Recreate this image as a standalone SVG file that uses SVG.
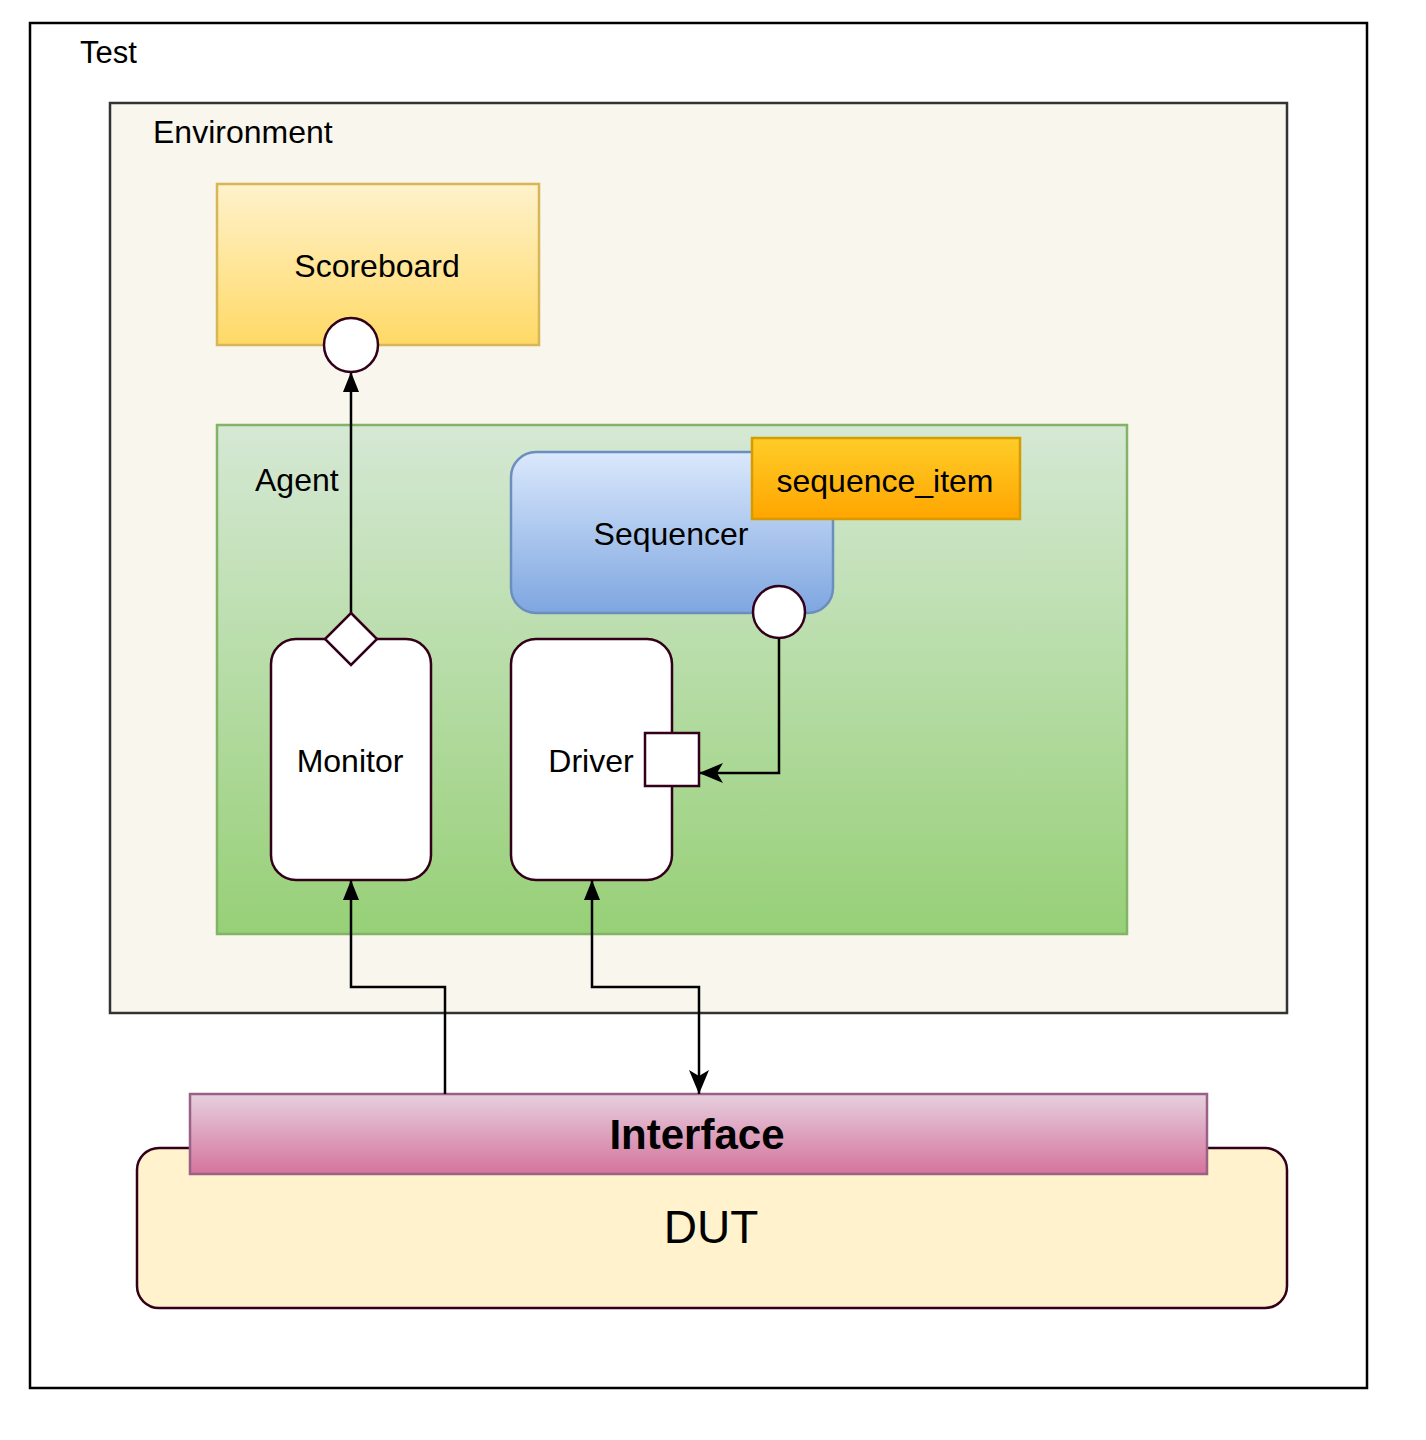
<svg xmlns="http://www.w3.org/2000/svg" width="1426" height="1440" viewBox="0 0 1426 1440">
<style>
text{font-family:"Liberation Sans",Arial,sans-serif;font-size:32px;fill:#000}
.c{text-anchor:middle}
.port{fill:#fff;stroke:#33001a;stroke-width:2.5}
.box{fill:#fff;stroke:#33001a;stroke-width:2.5}
.ln{fill:none;stroke:#000;stroke-width:2.5}
</style>
<defs>
<linearGradient id="gY" x1="0" y1="0" x2="0" y2="1"><stop offset="0" stop-color="#fff2cc"/><stop offset="1" stop-color="#ffd966"/></linearGradient>
<linearGradient id="gG" x1="0" y1="0" x2="0" y2="1"><stop offset="0" stop-color="#d5e8d4"/><stop offset="1" stop-color="#97d077"/></linearGradient>
<linearGradient id="gB" x1="0" y1="0" x2="0" y2="1"><stop offset="0" stop-color="#dae8fc"/><stop offset="1" stop-color="#7ea6e0"/></linearGradient>
<linearGradient id="gO" x1="0" y1="0" x2="0" y2="1"><stop offset="0" stop-color="#ffcd28"/><stop offset="1" stop-color="#ffa500"/></linearGradient>
<linearGradient id="gP" x1="0" y1="0" x2="0" y2="1"><stop offset="0" stop-color="#e6d0de"/><stop offset="1" stop-color="#d5739d"/></linearGradient>
<marker id="blk" viewBox="0 0 20 16" refX="20" refY="8" markerWidth="20" markerHeight="16" markerUnits="userSpaceOnUse" orient="auto"><path d="M0,0 L20,8 L0,16 Z" fill="#000"/></marker>
<marker id="cls" viewBox="0 0 24 20" refX="24" refY="10" markerWidth="24" markerHeight="20" markerUnits="userSpaceOnUse" orient="auto"><path d="M0,0 L24,10 L0,20 L6,10 Z" fill="#000"/></marker>
<marker id="clsS" viewBox="0 0 24 20" refX="24" refY="10" markerWidth="24" markerHeight="20" markerUnits="userSpaceOnUse" orient="auto-start-reverse"><path d="M0,0 L24,10 L0,20 L6,10 Z" fill="#000"/></marker>
</defs>

<g id="test"><rect x="30" y="23" width="1337" height="1365" fill="#fff" stroke="#000" stroke-width="2.5"/><text x="80" y="63" style="font-size:31px">Test</text></g>
<g id="environment"><rect x="110" y="103" width="1177" height="910" fill="#f9f6ee" stroke="#333" stroke-width="2.5"/><text x="153" y="143">Environment</text></g>
<g id="scoreboard"><rect x="217" y="184" width="322" height="161" fill="url(#gY)" stroke="#d6b656" stroke-width="2.5"/><text class="c" x="377" y="277">Scoreboard</text></g>
<g id="agent"><rect x="217" y="425" width="910" height="509" fill="url(#gG)" stroke="#82b366" stroke-width="2.5"/><text x="255" y="491">Agent</text></g>
<g id="sequencer"><rect x="511" y="452" width="322" height="161" rx="25" fill="url(#gB)" stroke="#6c8ebf" stroke-width="2.5"/><text class="c" x="671" y="545">Sequencer</text></g>
<g id="sequence_item"><rect x="752" y="438" width="268" height="81" fill="url(#gO)" stroke="#d79b00" stroke-width="2.5"/><text class="c" x="885" y="492">sequence_item</text></g>
<g id="monitor"><rect class="box" x="271" y="639" width="160" height="241" rx="25"/><text class="c" x="350" y="772">Monitor</text></g>
<g id="driver"><rect class="box" x="511" y="639" width="161" height="241" rx="25"/><text class="c" x="591" y="772">Driver</text></g>
<g id="dut"><rect x="137" y="1148" width="1150" height="160" rx="22" fill="#fff2cc" stroke="#33001a" stroke-width="2.5"/><text class="c" x="711" y="1243" style="font-size:46px">DUT</text></g>
<g id="interface"><rect x="190" y="1094" width="1017" height="80" fill="url(#gP)" stroke="#996185" stroke-width="2.5"/><text class="c" x="697" y="1149" style="font-size:42px;font-weight:bold">Interface</text></g>

<g id="connectors">
<path class="ln" d="M351,613 L351,372" marker-end="url(#blk)"/>
<path class="ln" d="M779,639 L779,773 L699,773" marker-end="url(#cls)"/>
<path class="ln" d="M445,1094 L445,987 L351,987 L351,880" marker-end="url(#blk)"/>
<path class="ln" d="M699,1094 L699,987 L592,987 L592,880" marker-end="url(#blk)" marker-start="url(#clsS)"/>
</g>

<g id="ports">
<circle id="sb_port" class="port" cx="351" cy="345" r="27"/>
<circle id="seq_port" class="port" cx="779" cy="612" r="26"/>
<path id="mon_port" class="port" d="M351,613 L377,639 L351,665 L325,639 Z"/>
<rect id="drv_port" class="port" x="645" y="733" width="54" height="53"/>
</g>
</svg>
